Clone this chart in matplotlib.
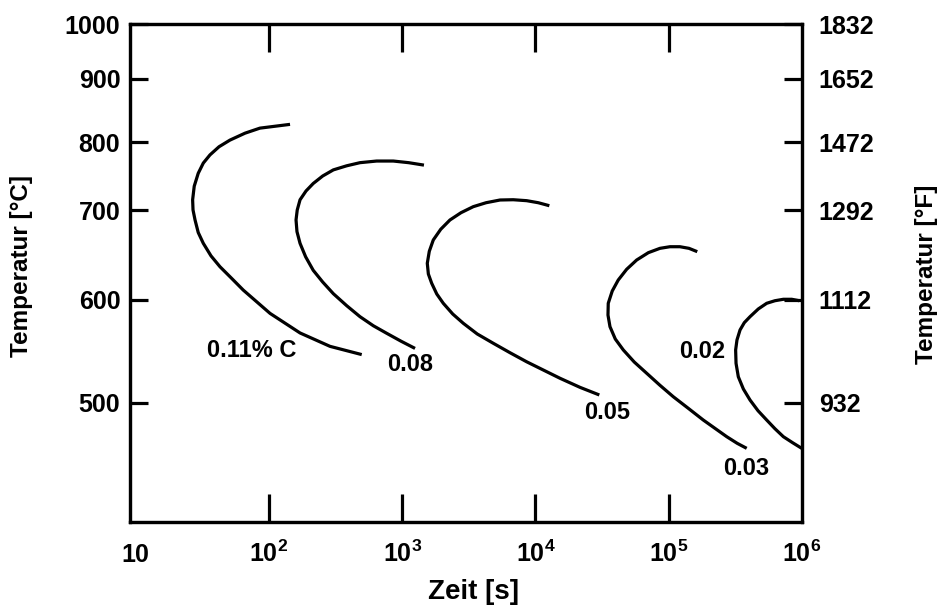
import numpy as np
import matplotlib
matplotlib.use("Agg")
import matplotlib.pyplot as plt

plt.rcParams['font.family'] = ['Liberation Sans', 'DejaVu Sans']
plt.rcParams['font.weight'] = 'bold'
plt.rcParams['mathtext.fontset'] = 'custom'
plt.rcParams['mathtext.rm'] = 'Liberation Sans:bold'
plt.rcParams['mathtext.bf'] = 'Liberation Sans:bold'

# Daten: log10(Zeit in s), Temperatur in °C
lt_011 = [2.158, 2.045, 1.932, 1.820, 1.707, 1.625, 1.557, 1.507, 1.469, 1.439, 1.427, 1.430,
          1.445, 1.469, 1.507, 1.565, 1.632, 1.720, 1.807, 2.008, 2.233, 2.458, 2.696]
T_011 = [828, 825, 822, 814, 803, 793, 781, 769, 754, 735, 715, 700,
         689, 675, 663, 649, 637, 624, 611, 587, 568, 555, 547]

lt_008 = [3.163, 3.048, 2.933, 2.808, 2.683, 2.583, 2.483, 2.403, 2.332, 2.278, 2.233, 2.212, 2.203,
          2.210, 2.233, 2.275, 2.332, 2.403, 2.483, 2.583, 2.683, 2.783, 2.883, 2.991, 3.096]
T_008 = [766, 769.6, 772, 772, 769.6, 765, 759, 750, 739, 728, 715, 700, 689,
         676, 663, 648, 633, 620, 607, 594.5, 583.8, 575, 567.7, 560, 553]

lt_005 = [4.104, 4.021, 3.934, 3.833, 3.734, 3.629, 3.533, 3.441, 3.358, 3.289, 3.233, 3.203, 3.188,
          3.196, 3.221, 3.259, 3.308, 3.379, 3.458, 3.563, 3.683, 3.809, 3.934, 4.059, 4.184, 4.334, 4.479]
T_005 = [706.3, 710.7, 713.7, 715.1, 714.7, 710.7, 704.9, 697, 688.9, 678.6, 666.7, 654.1, 640.8,
         628.9, 618.6, 606.7, 596.8, 586.4, 577.4, 567, 558, 548.8, 540, 532, 524, 515.2, 507.8]

lt_003 = [5.214, 5.152, 5.084, 5.009, 4.934, 4.847, 4.759, 4.684, 4.621, 4.576, 4.546, 4.544, 4.559,
          4.599, 4.659, 4.741, 4.835, 4.934, 5.034, 5.147, 5.259, 5.347, 5.435, 5.514, 5.585]
T_003 = [653.7, 657.4, 659.2, 659.2, 657.4, 652.6, 644.4, 634.1, 622.2, 610, 596.8, 585.4, 574.1,
         562.1, 551.5, 539.8, 528.8, 517.2, 506.1, 495.5, 485.7, 478.7, 471.7, 466.1, 461.9]

lt_002 = [5.980, 5.923, 5.860, 5.797, 5.735, 5.672, 5.610, 5.567, 5.535, 5.512, 5.502,
          5.505, 5.522, 5.560, 5.610, 5.670, 5.735, 5.797, 5.860, 5.930, 5.998]
T_002 = [599.3, 600.8, 600.8, 599.3, 596.8, 591.3, 583.8, 578, 570.9, 561.2, 551.5,
         538.5, 525.5, 513.6, 502.9, 493.5, 485.7, 478.4, 471.7, 466.6, 461.9]

kurven = [(lt_011, T_011), (lt_008, T_008), (lt_005, T_005), (lt_003, T_003), (lt_002, T_002)]

labels = ['0.11% C', '0.08', '0.05', '0.02', '0.03']
label_t = [74.5, 1143, 34430, 177800, 380000]
label_T = [551, 537, 492, 550, 445]

ytick_C = [500, 600, 700, 800, 900, 1000]
xtick_t = [10, 1e2, 1e3, 1e4, 1e5, 1e6]
xtick_lab = ['$10$', '$10^{2}$', '$10^{3}$', '$10^{4}$', '$10^{5}$', '$10^{6}$']

# nichtlineare Temperaturachse wie im Original
skala_T = [400, 500, 600, 700, 800, 900, 1000]
skala_pos = [-522, -403, -300, -210, -142, -79, -24]


def fwd(T):
    return np.interp(T, skala_T, skala_pos)


def inv(v):
    return np.interp(v, skala_pos, skala_T)


fig = plt.figure(figsize=(9.4, 6.1), dpi=100)
ax = fig.add_axes([130 / 940, 1 - 522 / 610, 672 / 940, 498 / 610])
ax.set_xscale('log')
ax.set_yscale('function', functions=(fwd, inv))
ax.set_xlim(10 ** 0.957, 1e6)
ax.set_ylim(400, 1000)

for lt, T in kurven:
    ax.plot(10 ** np.array(lt), T, color='black', lw=2.3,
            solid_capstyle='butt', solid_joinstyle='round')

for lab, t, T in zip(labels, label_t, label_T):
    ax.text(t, T, lab, fontsize=17, fontweight='bold', ha='center', va='center')

for s in ax.spines.values():
    s.set_linewidth(2.3)

ax.set_xticks(xtick_t)
ax.set_xticklabels(xtick_lab)
ax.xaxis.set_minor_locator(matplotlib.ticker.NullLocator())
ax.tick_params(axis='x', which='major', direction='in', length=20, width=2.3,
               top=True, labelsize=18, pad=29)
for lab in ax.get_xticklabels():
    lab.set_verticalalignment('baseline')
# keine Striche bei 10 und 10^6
for i in (0, -1):
    tk = ax.xaxis.get_major_ticks()[i]
    tk.tick1line.set_visible(False)
    tk.tick2line.set_visible(False)

ax.set_yticks(ytick_C)
ax.set_yticklabels([str(c) for c in ytick_C])
ax.yaxis.set_minor_locator(matplotlib.ticker.NullLocator())
ax.tick_params(axis='y', which='major', direction='in', length=13, width=2.3,
               labelsize=18, pad=7)

ax2 = ax.twinx()
ax2.set_yscale('function', functions=(fwd, inv))
ax2.set_ylim(400, 1000)
ax2.set_yticks(ytick_C)
ax2.set_yticklabels([str(int(round(c * 9 / 5 + 32))) for c in ytick_C])
ax2.yaxis.set_minor_locator(matplotlib.ticker.NullLocator())
ax2.tick_params(axis='y', which='major', direction='in', length=13, width=2.3,
                labelsize=18, pad=12)
for s in ax2.spines.values():
    s.set_linewidth(2.3)

fig.text(22 / 940, 1 - 266 / 610, 'Temperatur [°C]', rotation=90, fontsize=17.5,
         fontweight='bold', ha='center', va='center')
fig.text(927 / 940, 1 - 274 / 610, 'Temperatur [°F]', rotation=90, fontsize=17.5,
         fontweight='bold', ha='center', va='center')
fig.text(474 / 940, 1 - 592 / 610, 'Zeit [s]', fontsize=20, fontweight='bold',
         ha='center', va='center')

fig.savefig('out.png', dpi=100)
